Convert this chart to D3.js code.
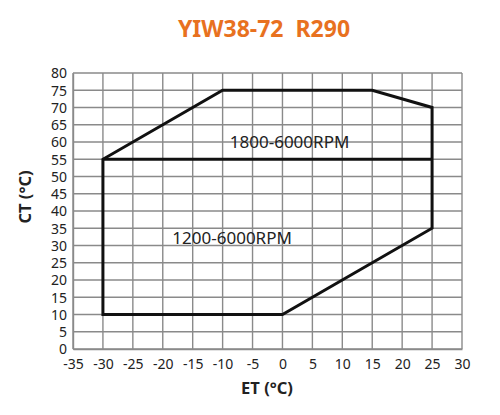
<!DOCTYPE html>
<html>
<head>
<meta charset="utf-8">
<script src="https://cdn.jsdelivr.net/npm/d3@7"></script>
<style>
body { margin: 0; background: #fff; }
text { font-family: "Noto Sans", "Open Sans", sans-serif; }
</style>
</head>
<body>
<div id="chart"></div>
<script>
// envelope of the operating range
var envET = [-30, 0, 25, 25, 15, -10, -30]
var envCT = [10, 10, 35, 70, 75, 75, 55]
// split line between speed ranges
var splitET = [-30, 25]
var splitCT = [55, 55]
var xTicks = d3.range(-35, 31, 5)
var yTicks = d3.range(0, 81, 5)
var zoneLabels = ["1800-6000RPM", "1200-6000RPM"]
var zoneET = [-8.8, -18.4]
var zoneCT = [58.2, 30.3]

var width = 500, height = 415
var margin = {top: 73, right: 38, bottom: 66, left: 73}

var svg = d3.select("#chart")
    .append("svg")
    .attr("width", width)
    .attr("height", height)

var x = d3.scaleLinear().domain([-35, 30]).range([margin.left, width - margin.right])
var y = d3.scaleLinear().domain([0, 80]).range([height - margin.bottom, margin.top])

// grid
svg.append("g").selectAll("line.v")
    .data(xTicks).enter().append("line")
    .attr("x1", d => x(d)).attr("x2", d => x(d))
    .attr("y1", y(0)).attr("y2", y(80))
    .style("stroke", "#8a8a8a").style("stroke-width", 1.4)
svg.append("g").selectAll("line.h")
    .data(yTicks).enter().append("line")
    .attr("x1", x(-35)).attr("x2", x(30))
    .attr("y1", d => y(d)).attr("y2", d => y(d))
    .style("stroke", "#8a8a8a").style("stroke-width", 1.4)

// axes (plain hyphen for negatives, like the original)
var xAxis = svg.append("g")
    .attr("transform", "translate(0," + y(0) + ")")
    .call(d3.axisBottom(x).tickValues(xTicks).tickSize(0).tickPadding(10).tickFormat(d => String(d)))
var yAxis = svg.append("g")
    .attr("transform", "translate(" + x(-35) + ",0)")
    .call(d3.axisLeft(y).tickValues(yTicks).tickSize(0).tickPadding(6).tickFormat(d => String(d)))
xAxis.select(".domain").style("stroke", "#8a8a8a").style("stroke-width", 1.4)
yAxis.select(".domain").style("stroke", "#8a8a8a").style("stroke-width", 1.4)
svg.selectAll(".tick text")
    .style("font-family", "'Noto Sans', sans-serif")
    .style("font-size", "14px")
    .style("fill", "#222")
yAxis.selectAll(".tick text").attr("dy", "0.34em")
xAxis.selectAll(".tick text").attr("dy", "0.72em")

// envelope
var pts = envET.map((e, i) => [x(e), y(envCT[i])])
svg.append("path")
    .attr("d", d3.line()(pts) + "Z")
    .style("fill", "none")
    .style("stroke", "#111").style("stroke-width", 3)
    .style("stroke-linejoin", "miter")
svg.append("path")
    .attr("d", d3.line()(splitET.map((e, i) => [x(e), y(splitCT[i])])))
    .style("fill", "none")
    .style("stroke", "#111").style("stroke-width", 3)

svg.selectAll("text.zone")
    .data(zoneLabels).enter().append("text")
    .attr("class", "zone")
    .attr("x", (d, i) => x(zoneET[i]))
    .attr("y", (d, i) => y(zoneCT[i]))
    .style("font-size", "17px")
    .style("fill", "#222")
    .text(d => d)

// titles
svg.append("text")
    .attr("x", 264).attr("y", 37)
    .attr("text-anchor", "middle")
    .style("white-space", "pre")
    .style("font-size", "23px").style("font-weight", "bold")
    .style("fill", "#e8711f")
    .text("YIW38-72  R290")
svg.append("text")
    .attr("x", 267).attr("y", 394)
    .attr("text-anchor", "middle")
    .style("font-size", "16.5px").style("font-weight", "bold")
    .style("fill", "#222")
    .text("ET (°C)")
svg.append("text")
    .attr("transform", "translate(31,197) rotate(-90)")
    .attr("text-anchor", "middle")
    .style("font-size", "16.5px").style("font-weight", "bold")
    .style("fill", "#222")
    .text("CT (°C)")
</script>
</body>
</html>
